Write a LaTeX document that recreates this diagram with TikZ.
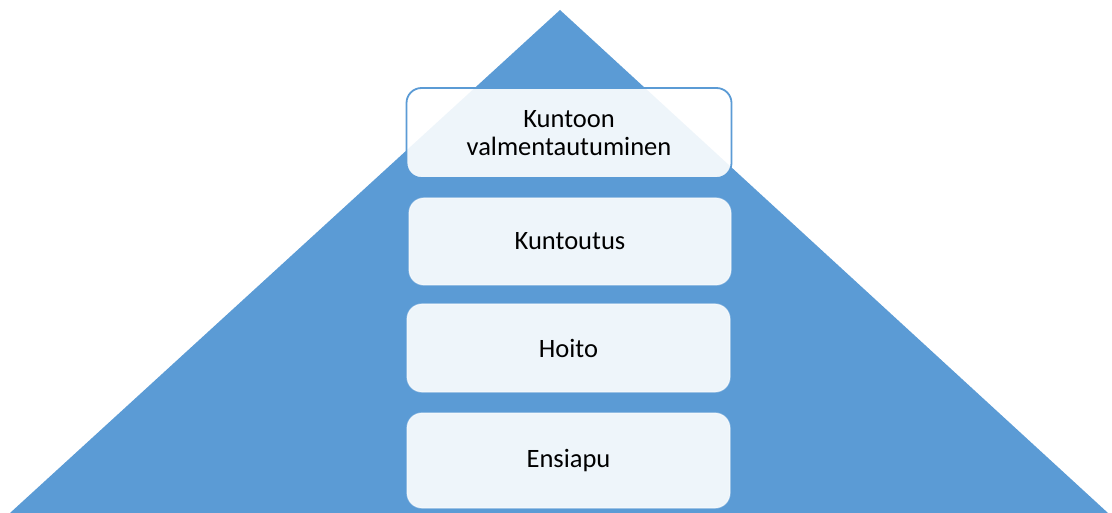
\documentclass[tikz,border=0pt]{standalone}
\usepackage{fontspec}
\setmainfont{Carlito}
\definecolor{tri}{HTML}{5B9BD5}
\definecolor{boxfill}{HTML}{FFFFFF}
\begin{document}
\begin{tikzpicture}[x=1pt,y=-1pt,
  level/.style={rounded corners=15pt, fill=boxfill, fill opacity=0.9, text opacity=1,
    draw=white, draw opacity=0.5, line width=1.2pt, align=center,
    font=\fontsize{26.5}{28}\selectfont, inner sep=0pt}]
\useasboundingbox (0,0) rectangle (1112,513);
\fill[tri] (560,10) -- (1108,513) -- (10,513) -- cycle;
\node[level, draw=tri, draw opacity=1, line width=1.8pt, minimum width=325pt, minimum height=90pt] (k1) at (569,133) {Kuntoon\\valmentautuminen};
\node[level, minimum width=322pt, minimum height=87pt] (k2) at (570,241.5) {Kuntoutus};
\node[level, minimum width=323pt, minimum height=88pt] (k3) at (568.5,348) {Hoito};
\node[level, minimum width=323pt, minimum height=95pt] (k4) at (568.5,460.5) {Ensiapu};
\end{tikzpicture}
\end{document}
